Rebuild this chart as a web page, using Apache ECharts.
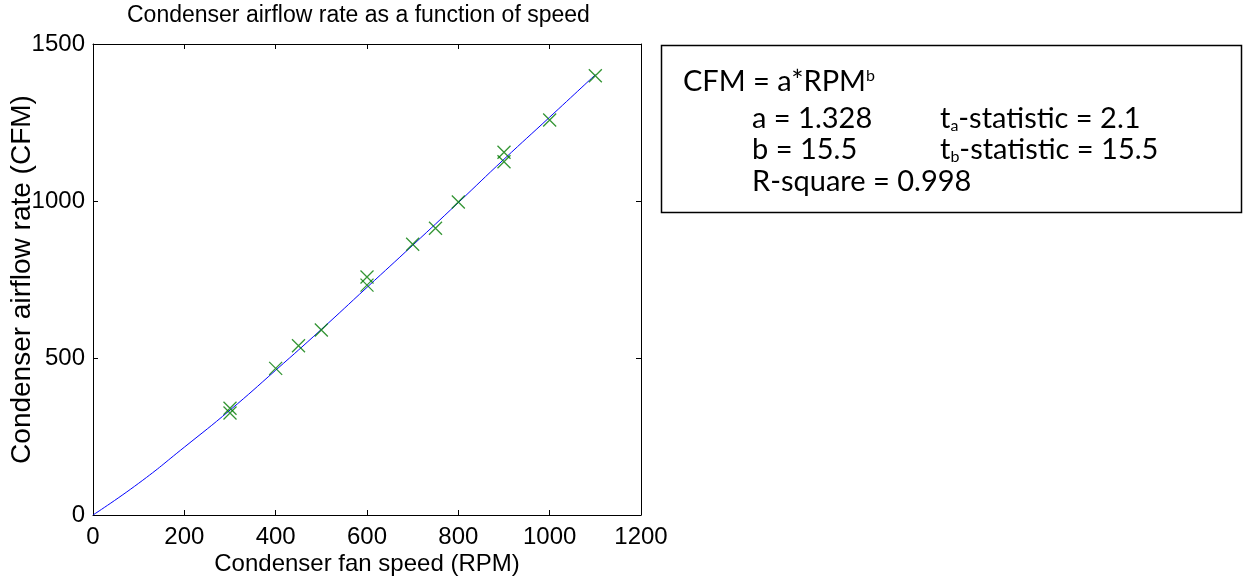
<!DOCTYPE html>
<html>
<head>
<meta charset="utf-8">
<script src="https://cdn.jsdelivr.net/npm/echarts@6/dist/echarts.min.js"></script>
<style>
html,body{margin:0;padding:0;background:#fff;}
#main{width:1255px;height:579px;}
</style>
</head>
<body>
<div id="main"></div>
<script>
// Measured data (fan speed RPM, airflow CFM)
var rpm = [300, 300, 400, 450, 500, 600, 600, 700, 750, 800, 900, 900, 1000, 1100];
var cfm = [340, 325, 467, 539, 589, 758, 732, 862, 913, 997, 1155, 1125, 1258, 1399];
// Fitted curve
var fitRpm = [0, 100, 200, 300, 400, 500, 600, 700, 800, 900, 1000, 1100];
var fitCfm = [0, 101, 216, 334, 461, 591, 725, 859, 995, 1133, 1267, 1402];
var xTicks = {min: 0, max: 1200, interval: 200};
var yTicks = {min: 0, max: 1500, interval: 500};
var titleText = 'Condenser airflow rate as a function of speed';
var xName = 'Condenser fan speed (RPM)';
var yName = 'Condenser airflow rate (CFM)';

var pts = rpm.map(function (r, i) { return [r, cfm[i]]; });
var fit = fitRpm.map(function (r, i) { return [r, fitCfm[i]]; });

var FONT = 'Liberation Sans';
var BOXFONT = 'Lato';
var BOXSIZE = 29;
var SUBSIZE = 16;
var chart = echarts.init(document.getElementById('main'), null, {renderer: 'canvas'});

var axisCommon = {
  axisLine: {show: true, onZero: false, lineStyle: {color: '#000', width: 1}},
  axisTick: {show: true, inside: true, length: 5, lineStyle: {color: '#000'}},
  splitLine: {show: false}
};
function plain(v) { return String(v); }

chart.setOption({
  animation: false,
  backgroundColor: '#fff',
  title: {
    text: titleText,
    left: 122, top: -1,
    textStyle: {fontFamily: FONT, fontSize: 23, fontWeight: 'normal', color: '#000'}
  },
  grid: {left: 93, right: 614, top: 44, bottom: 64, containLabel: false, outerBoundsMode: 'none'},
  xAxis: [
    Object.assign({
      type: 'value', position: 'bottom', min: xTicks.min, max: xTicks.max, interval: xTicks.interval,
      name: xName, nameLocation: 'middle', nameGap: 37, nameMoveOverlap: false,
      nameTextStyle: {fontFamily: FONT, fontSize: 24, color: '#000'},
      axisLabel: {fontFamily: FONT, fontSize: 24, color: '#000', margin: 10, formatter: plain}
    }, axisCommon),
    Object.assign({
      type: 'value', position: 'top', min: xTicks.min, max: xTicks.max, interval: xTicks.interval,
      axisLabel: {show: false}
    }, axisCommon)
  ],
  yAxis: [
    Object.assign({
      type: 'value', position: 'left', min: yTicks.min, max: yTicks.max, interval: yTicks.interval,
      name: yName, nameLocation: 'middle', nameGap: 57, nameRotate: 90, nameMoveOverlap: false,
      nameTextStyle: {fontFamily: FONT, fontSize: 28, color: '#000'},
      axisLabel: {fontFamily: FONT, fontSize: 24, color: '#000', margin: 8, formatter: plain}
    }, axisCommon),
    Object.assign({
      type: 'value', position: 'right', min: yTicks.min, max: yTicks.max, interval: yTicks.interval,
      axisLabel: {show: false}
    }, axisCommon)
  ],
  series: [
    {
      type: 'line', data: fit, smooth: true, showSymbol: false, symbol: 'none',
      lineStyle: {color: '#0000ff', width: 1}, z: 2
    },
    {
      type: 'scatter', data: pts, symbol: 'path://M0,0L10,10M10,0L0,10', symbolSize: 13,
      itemStyle: {color: 'rgba(0,0,0,0)', borderColor: '#007a00', borderWidth: 1.3}, z: 3
    }
  ],
  graphic: [
    {type: 'rect', shape: {x: 661.5, y: 45.5, width: 580, height: 167},
     style: {fill: '#fff', stroke: '#000', lineWidth: 1.5}},
    {type: 'text', x: 683, y: 82, style: {
      text: '{m|CFM = a*RPM}{s|b}', verticalAlign: 'middle',
      rich: {m: {fontFamily: BOXFONT, fontSize: BOXSIZE, color: '#000'},
             s: {fontFamily: BOXFONT, fontSize: SUBSIZE, color: '#000', verticalAlign: 'top'}}}},
    {type: 'text', x: 752, y: 119, style: {text: 'a = 1.328', verticalAlign: 'middle',
      font: BOXSIZE + 'px ' + BOXFONT, fill: '#000'}},
    {type: 'text', x: 940, y: 119, style: {
      text: '{m|t}{s|a}{m|-statistic = 2.1}', verticalAlign: 'middle',
      rich: {m: {fontFamily: BOXFONT, fontSize: BOXSIZE, color: '#000'},
             s: {fontFamily: BOXFONT, fontSize: SUBSIZE, color: '#000', verticalAlign: 'bottom'}}}},
    {type: 'text', x: 752, y: 150, style: {text: 'b = 15.5', verticalAlign: 'middle',
      font: BOXSIZE + 'px ' + BOXFONT, fill: '#000'}},
    {type: 'text', x: 940, y: 150, style: {
      text: '{m|t}{s|b}{m|-statistic = 15.5}', verticalAlign: 'middle',
      rich: {m: {fontFamily: BOXFONT, fontSize: BOXSIZE, color: '#000'},
             s: {fontFamily: BOXFONT, fontSize: SUBSIZE, color: '#000', verticalAlign: 'bottom'}}}},
    {type: 'text', x: 752, y: 182, style: {text: 'R-square = 0.998', verticalAlign: 'middle',
      font: BOXSIZE + 'px ' + BOXFONT, fill: '#000'}}
  ]
});
</script>
</body>
</html>
